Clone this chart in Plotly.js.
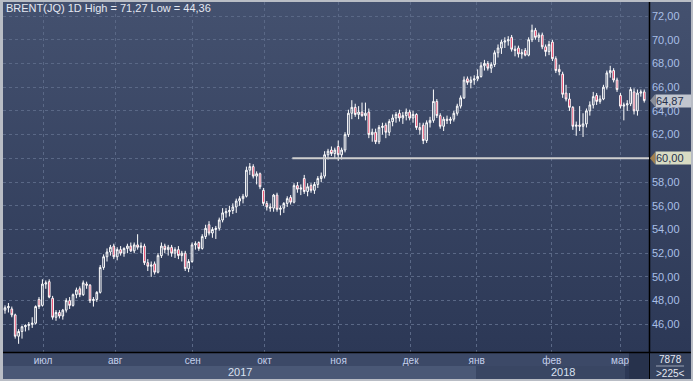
<!DOCTYPE html>
<html><head><meta charset="utf-8">
<script src="https://cdn.plot.ly/plotly-3.0.1.min.js"></script>
<style>
html,body{margin:0;padding:0;background:#b9bdc5;}
#wrap{position:relative;width:693px;height:381px;overflow:hidden;background:linear-gradient(to bottom,#44516f 0px,#2c3856 352px,#2c3856 381px);}
#chart{position:absolute;left:0;top:0;width:693px;height:381px;}
#frame{position:absolute;left:0;top:0;width:693px;height:381px;box-sizing:border-box;border:2px solid #b9bdc5;border-left-width:3px;pointer-events:none;}
</style></head>
<body>
<div id="wrap"><div id="chart"></div><div id="frame"></div></div>
<script>
// ---- data (bar index = trading day) ----
const open  = [47.2,47.4,47.3,46.8,45.0,45.4,45.8,45.9,46.0,46.1,48.1,47.6,49.4,49.6,48.2,46.6,47.0,46.7,47.2,48.0,
47.6,48.5,49.0,48.5,49.4,49.3,48.0,48.1,48.7,50.8,51.7,52.1,52.6,51.7,52.3,52.0,52.4,52.6,52.2,52.7,
52.5,52.6,51.2,50.9,51.1,50.4,51.8,52.6,52.3,52.5,52.0,52.3,51.8,52.0,50.7,51.3,52.7,52.9,52.4,53.4,
54.4,53.7,54.0,54.1,54.8,55.4,55.5,55.6,55.9,56.4,56.6,56.8,59.0,59.3,58.5,58.7,57.3,56.2,55.9,55.8,
56.9,55.7,55.8,56.2,56.7,56.3,57.7,57.4,58.3,57.2,57.7,57.3,57.8,58.3,58.5,60.3,60.7,60.4,61.0,60.3,
60.7,62.0,63.8,64.3,63.7,63.9,63.6,63.9,62.0,62.2,61.4,62.6,62.8,62.2,63.1,63.4,63.8,63.4,63.6,63.9,
63.4,63.7,62.6,62.8,61.5,63.0,63.2,64.8,63.6,62.7,63.3,63.2,63.3,63.8,64.4,65.1,66.7,66.4,66.6,66.7,
66.9,67.8,68.0,67.6,67.9,68.9,69.3,69.8,69.9,70.2,69.2,69.3,68.8,69.1,68.7,70.0,70.8,70.2,70.4,69.4,
69.0,69.8,68.4,67.5,67.1,65.5,65.0,64.3,62.7,62.8,62.7,62.9,64.0,64.5,65.3,64.8,65.0,66.0,67.2,67.4,
66.6,65.3,64.4,64.5,64.6,65.6,64.0,65.5,65.6];
const high  = [47.6,47.8,47.5,46.9,45.6,45.9,46.0,46.2,46.6,47.6,48.3,49.8,49.7,49.8,48.4,47.2,47.2,47.3,48.2,48.3,
48.6,49.1,49.2,49.7,49.6,49.4,48.3,48.8,51.0,51.9,52.4,52.7,52.8,52.5,52.6,52.5,52.8,52.9,52.9,53.6,
52.9,52.8,51.5,51.3,51.3,52.0,52.9,52.8,52.7,52.7,52.5,52.6,52.2,52.2,51.5,52.9,53.0,53.0,53.6,54.4,
54.7,54.2,54.3,55.0,55.8,55.8,56.0,56.2,56.6,56.8,57.0,59.3,59.6,59.5,58.9,58.8,57.5,56.4,56.2,57.0,
57.1,56.0,56.3,56.8,56.9,57.9,58.0,57.8,58.6,57.9,57.9,58.0,58.5,58.8,60.6,60.8,61.0,60.9,61.5,60.9,
62.2,64.1,64.9,64.6,64.4,64.7,64.7,64.2,62.5,62.5,62.8,63.0,63.0,63.3,63.7,63.9,64.1,63.9,64.2,64.1,
64.0,63.8,63.0,63.0,63.2,63.5,65.8,65.0,63.8,63.5,63.6,63.5,64.0,64.6,65.3,66.9,66.9,66.9,67.0,67.5,
68.1,68.3,68.2,68.1,69.1,69.6,70.0,70.2,70.3,70.4,69.5,69.5,69.2,69.3,70.2,71.27,71.0,70.6,70.6,69.6,
69.9,70.0,68.6,67.9,67.3,66.2,65.5,64.4,63.1,64.4,63.8,64.2,64.8,65.6,65.5,65.3,66.2,67.4,67.8,67.6,
66.8,65.5,64.7,64.9,66.0,65.9,65.8,65.8,65.8];
const low   = [46.9,47.0,46.6,44.8,44.36,44.8,45.4,45.5,45.7,46.0,47.3,47.5,49.0,48.2,46.4,46.3,46.5,46.4,47.0,47.3,
47.5,48.2,48.3,48.4,49.0,47.8,47.5,47.9,48.6,50.6,51.3,51.8,51.5,51.4,51.8,51.7,52.0,52.1,52.0,52.3,
52.0,51.0,50.5,50.0,50.2,50.3,51.6,52.0,51.8,51.7,51.6,51.5,51.3,50.5,50.4,51.2,52.3,52.2,52.3,53.2,
53.5,53.3,53.2,53.9,54.6,55.0,55.1,55.3,55.4,56.0,56.2,56.7,58.6,58.3,57.8,57.4,56.0,55.6,55.5,55.5,
55.5,55.2,55.4,55.9,56.1,56.2,57.1,56.9,57.0,56.8,57.1,57.0,57.5,58.0,58.3,59.9,60.2,60.0,59.8,59.9,
60.5,61.8,63.3,63.5,63.3,63.5,63.2,61.7,61.4,61.2,61.2,62.0,61.7,61.9,62.7,63.0,63.1,62.9,63.2,63.2,
63.0,62.4,62.0,61.2,61.3,62.6,63.0,63.4,62.5,62.3,62.9,62.9,63.1,63.6,64.2,65.0,66.2,65.9,66.2,66.5,
66.8,67.4,67.4,67.2,67.7,68.5,68.8,69.3,69.5,69.0,68.6,68.5,68.4,68.6,68.6,69.8,70.0,69.8,69.2,68.6,
68.7,68.2,67.2,67.0,65.1,64.8,64.0,62.4,61.9,62.3,61.8,62.6,63.6,64.2,64.5,64.6,64.9,65.8,66.8,66.4,
65.6,64.2,63.2,64.0,64.4,63.7,63.6,65.2,64.7];
const close = [47.4,47.5,46.8,45.0,45.4,45.8,45.9,46.0,46.1,47.5,47.5,49.4,49.5,48.3,46.6,47.0,46.7,47.2,48.0,47.6,
48.5,48.9,48.5,49.5,49.3,48.0,48.1,48.7,50.8,51.7,52.1,52.5,51.7,52.3,52.0,52.4,52.6,52.2,52.7,52.5,
52.6,51.2,50.9,51.0,50.4,51.8,52.6,52.3,52.5,52.0,52.3,51.8,52.0,50.7,51.3,52.7,52.8,52.4,53.4,54.1,
53.7,54.0,54.1,54.8,55.4,55.5,55.6,55.9,56.4,56.6,56.8,59.0,59.3,58.5,58.7,57.6,56.2,55.9,55.8,56.9,
55.7,55.8,56.2,56.6,56.3,57.7,57.4,57.5,57.2,57.6,57.3,57.8,58.3,58.5,60.3,60.6,60.4,60.7,60.3,60.7,
62.0,63.8,64.3,63.7,63.9,63.6,63.8,62.0,62.2,61.4,62.6,62.7,62.2,63.1,63.4,63.7,63.4,63.6,63.9,63.4,
63.7,62.6,62.4,61.5,63.0,63.2,64.8,63.6,62.7,63.3,63.2,63.3,63.8,64.4,65.1,66.6,66.4,66.6,66.7,66.9,
67.8,68.0,67.6,67.9,68.9,69.3,69.8,69.9,70.0,69.2,69.1,68.8,68.9,68.7,70.0,70.8,70.2,70.4,69.4,69.0,
69.6,68.4,67.4,67.3,65.4,65.0,64.3,62.7,62.8,62.7,62.9,64.0,64.5,65.2,64.8,65.0,66.0,67.2,67.4,66.6,
65.8,64.4,64.5,64.6,65.8,64.0,65.5,65.6,64.87];
const monthPos    = [11.2, 32.4, 55.2, 76.3, 98.1, 119.3, 138.7, 160.8, 180.9];
const monthLabels = ['июл','авг','сен','окт','ноя','дек','янв','фев','мар'];
const yearLabels  = ['2017','2018'];
const yTicks      = [46,48,50,52,54,56,58,60,62,64,66,68,70,72];
const levelPrice  = 60.00;
const levelStart  = 84.5;
const titleText   = 'BRENT(JQ) 1D High = 71,27 Low = 44,36';
const volText     = ['7878','>225<'];

// ---- layout helpers (pixel -> paper) ----
const W=693,H=381,L=3,R=44,T=2,B=29;
const pw=W-L-R, ph=H-T-B;
const px = x => (x-L)/pw;
const py = y => (H-B-y)/ph;
const idx = close.map((_,i)=>i);
const xr=[-0.59,189.4], yr=[43.67,73.18];
const lastPrice = close[close.length-1];

const fmt = v => v.toFixed(2).replace('.',',');

const shapes = [
  {type:'rect',xref:'paper',yref:'paper',x0:px(3),x1:px(649),y0:py(352),y1:py(366),fillcolor:'#3c4967',line:{width:0},layer:'below'},
  {type:'rect',xref:'paper',yref:'paper',x0:px(3),x1:px(476),y0:py(366),y1:py(379),fillcolor:'#4a5876',line:{width:0},layer:'below'},
  {type:'rect',xref:'paper',yref:'paper',x0:px(476),x1:px(625),y0:py(366),y1:py(379),fillcolor:'#394663',line:{width:0},layer:'below'},
  {type:'rect',xref:'paper',yref:'paper',x0:px(629),x1:px(649),y0:py(353),y1:py(379),fillcolor:'#27324c',line:{width:0},layer:'below'},
  {type:'rect',xref:'paper',yref:'paper',x0:px(650),x1:px(691),y0:py(353),y1:py(379),fillcolor:'#36435f',line:{width:0},layer:'below'},
  {type:'line',xref:'paper',yref:'paper',x0:px(656),x1:px(684),y0:py(366),y1:py(366),line:{color:'#9aa3b5',width:1}},
  {type:'line',xref:'paper',yref:'paper',x0:px(649.5),x1:px(649.5),y0:py(0),y1:py(352),line:{color:'#000000',width:1.5}},
  {type:'line',xref:'paper',yref:'paper',x0:px(649.5),x1:px(649.5),y0:py(352),y1:py(381),line:{color:'#000000',width:1}},
  {type:'line',xref:'paper',yref:'paper',x0:px(3),x1:px(691),y0:py(352.5),y1:py(352.5),line:{color:'#000000',width:1.5}},
  {type:'line',xref:'x',yref:'y',x0:levelStart,x1:xr[1],y0:levelPrice,y1:levelPrice,line:{color:'#cfcfcf',width:2}},
];

function tag(y,txt,bg){
  return {xref:'paper',yref:'y',x:px(655),y:y,xanchor:'left',yanchor:'middle',text:txt,showarrow:false,
    font:{family:'Liberation Sans, Arial',size:11,color:'#26304a'},bgcolor:bg,borderpad:0,width:35,height:12,align:'left'};
}
function pointer(y,col){
  const dy = (yr[1]-yr[0])/ph*6;
  return {type:'path',xref:'paper',yref:'y',
    path:`M ${px(650)} ${y} L ${px(655)} ${y+dy} L ${px(655)} ${y-dy} Z`,fillcolor:col,line:{width:0}};
}
shapes.push(pointer(levelPrice,'#a08050'), pointer(lastPrice,'#8a8f9a'));

const annotations = [
  {xref:'paper',yref:'paper',x:px(4),y:py(8),xanchor:'left',yanchor:'middle',text:titleText,showarrow:false,
   font:{family:'Liberation Sans, Arial',size:11,color:'#e4e8f2'}},
  {xref:'paper',yref:'paper',x:px(240),y:py(372),xanchor:'center',yanchor:'middle',text:yearLabels[0],showarrow:false,
   font:{family:'Liberation Sans, Arial',size:11,color:'#d8e0f0'}},
  {xref:'paper',yref:'paper',x:px(563),y:py(372),xanchor:'center',yanchor:'middle',text:yearLabels[1],showarrow:false,
   font:{family:'Liberation Sans, Arial',size:11,color:'#d8e0f0'}},
  {xref:'paper',yref:'paper',x:px(670),y:py(359.5),xanchor:'center',yanchor:'middle',text:volText[0],showarrow:false,
   font:{family:'Liberation Sans, Arial',size:10,color:'#e4e8f2'}},
  {xref:'paper',yref:'paper',x:px(670),y:py(373),xanchor:'center',yanchor:'middle',text:volText[1],showarrow:false,
   font:{family:'Liberation Sans, Arial',size:10,color:'#e4e8f2'}},
  tag(levelPrice,fmt(levelPrice),'#d8dbc3'),
  tag(lastPrice,fmt(lastPrice),'#c2c6cf'),
];

const trace = {
  type:'candlestick', x:idx, open:open, high:high, low:low, close:close,
  increasing:{line:{color:'#ffffff',width:1},fillcolor:'rgba(0,0,0,0)'},
  decreasing:{line:{color:'#ffffff',width:1},fillcolor:'#e3123f'},
  whiskerwidth:0, hoverinfo:'skip'
};

const layout = {
  width:W,height:H,margin:{l:L,r:R,t:T,b:B,pad:0},
  paper_bgcolor:'rgba(0,0,0,0)',plot_bgcolor:'rgba(0,0,0,0)',
  separators:', ',showlegend:false,
  xaxis:{type:'linear',range:xr,tickmode:'array',tickvals:monthPos,ticktext:monthLabels,
    showgrid:true,gridcolor:'#5a6886',griddash:'3px,3px',gridwidth:1,zeroline:false,
    ticks:'',ticklabelstandoff:1,tickfont:{family:'Liberation Sans, Arial',size:10,color:'#c4d0ec'},
    rangeslider:{visible:false},fixedrange:true,showline:false},
  yaxis:{side:'right',range:yr,tickmode:'array',tickvals:yTicks,
    ticktext:yTicks.map(v => v===levelPrice ? '' : fmt(v)),
    showgrid:true,gridcolor:'#5a6886',griddash:'3px,3px',gridwidth:1,zeroline:false,
    ticks:'',ticklabelstandoff:2,tickfont:{family:'Liberation Sans, Arial',size:11,color:'#a9bfe6'},fixedrange:true,showline:false},
  shapes:shapes, annotations:annotations
};
Plotly.newPlot('chart',[trace],layout,{displayModeBar:false,staticPlot:true});
</script>
</body></html>
